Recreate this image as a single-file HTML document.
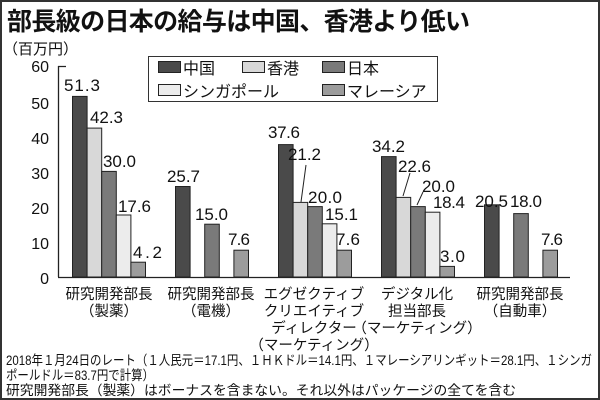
<!DOCTYPE html>
<html><head><meta charset="utf-8"><style>
body{margin:0;background:#fff}
svg{display:block}
text{font-family:"Liberation Sans","Noto Sans CJK JP",sans-serif;fill:#111}
</style></head><body>
<svg width="600" height="400" viewBox="0 0 600 400" xmlns="http://www.w3.org/2000/svg">
<rect x="1" y="1" width="598" height="398" fill="#fff" stroke="#333" stroke-width="2"/>
<text x="7" y="30" font-size="25" font-weight="bold" textLength="463">部長級の日本の給与は中国、香港より低い</text>
<text x="3" y="54" font-size="15">（百万円）</text>
<!-- y axis -->
<g font-size="16" text-anchor="end">
<text x="49" y="72">60</text><text x="49" y="109">50</text><text x="49" y="144">40</text>
<text x="49" y="179">30</text><text x="49" y="214">20</text><text x="49" y="249">10</text><text x="49" y="284">0</text>
</g>
<path d="M58.5 66 V277 M58 66.5 H66 M58 277.5 H570" stroke="#222" stroke-width="1.3" fill="none"/>
<!-- legend -->
<rect x="148.5" y="56.5" width="289" height="45" fill="#fff" stroke="#333"/>
<g stroke="#222" stroke-width="1">
<rect x="158.5" y="61.5" width="22" height="11" fill="#4a4a4a"/>
<rect x="242.5" y="61.5" width="22" height="11" fill="#d8d8d8"/>
<rect x="322.5" y="61.5" width="22" height="11" fill="#7a7a7a"/>
<rect x="158.5" y="84.5" width="22" height="11" fill="#ececec"/>
<rect x="322.5" y="84.5" width="22" height="11" fill="#9c9c9c"/>
</g>
<g font-size="16">
<text x="183" y="74">中国</text><text x="267" y="74">香港</text><text x="347" y="74">日本</text>
<text x="183" y="97">シンガポール</text><text x="347" y="97">マレーシア</text>
</g>
<!-- bars -->
<g stroke="#222" stroke-width="1">
<rect x="72.5" y="96.4" width="14.6" height="180.6" fill="#4a4a4a"/>
<rect x="87.1" y="128.1" width="14.6" height="148.9" fill="#d8d8d8"/>
<rect x="101.7" y="171.4" width="14.6" height="105.6" fill="#7a7a7a"/>
<rect x="116.3" y="215.0" width="14.6" height="62.0" fill="#ececec"/>
<rect x="130.9" y="262.2" width="14.6" height="14.8" fill="#9c9c9c"/>

<rect x="175.5" y="186.5" width="14.6" height="90.5" fill="#4a4a4a"/>
<rect x="204.7" y="224.2" width="14.6" height="52.8" fill="#7a7a7a"/>
<rect x="233.9" y="250.2" width="14.6" height="26.8" fill="#9c9c9c"/>

<rect x="278.5" y="144.6" width="14.6" height="132.4" fill="#4a4a4a"/>
<rect x="293.1" y="202.4" width="14.6" height="74.6" fill="#d8d8d8"/>
<rect x="307.7" y="206.6" width="14.6" height="70.4" fill="#7a7a7a"/>
<rect x="322.3" y="223.8" width="14.6" height="53.2" fill="#ececec"/>
<rect x="336.9" y="250.2" width="14.6" height="26.8" fill="#9c9c9c"/>

<rect x="381.5" y="156.6" width="14.6" height="120.4" fill="#4a4a4a"/>
<rect x="396.1" y="197.4" width="14.6" height="79.6" fill="#d8d8d8"/>
<rect x="410.7" y="206.6" width="14.6" height="70.4" fill="#7a7a7a"/>
<rect x="425.3" y="212.2" width="14.6" height="64.8" fill="#ececec"/>
<rect x="439.9" y="266.4" width="14.6" height="10.6" fill="#9c9c9c"/>

<rect x="484.5" y="204.8" width="14.6" height="72.2" fill="#4a4a4a"/>
<rect x="513.7" y="213.6" width="14.6" height="63.4" fill="#7a7a7a"/>
<rect x="542.9" y="250.2" width="14.6" height="26.8" fill="#9c9c9c"/>
</g>
<!-- leader lines -->
<path d="M306 165 L301 202 M410 173 L403 196 M423 192 L417 205" stroke="#222" stroke-width="1" fill="none"/>
<!-- value labels -->
<g font-size="17">
<text x="64" y="91" textLength="36">51.3</text>
<text x="90" y="123" textLength="33">42.3</text>
<text x="103" y="167" textLength="33">30.0</text>
<text x="118" y="212" textLength="33">17.6</text>
<text x="133" y="258" textLength="29">4.2</text>
<text x="167" y="182" textLength="33">25.7</text>
<text x="195" y="220" textLength="33">15.0</text>
<text x="228" y="245" textLength="22">7.6</text>
<text x="268" y="138" textLength="32">37.6</text>
<text x="288" y="160" textLength="33">21.2</text>
<text x="308" y="203" textLength="34">20.0</text>
<text x="325" y="220" textLength="33">15.1</text>
<text x="336" y="245" textLength="24">7.6</text>
<text x="372" y="152" textLength="33">34.2</text>
<text x="398" y="172" textLength="33">22.6</text>
<text x="422" y="192" textLength="33">20.0</text>
<text x="433" y="208" textLength="32">18.4</text>
<text x="440" y="262" textLength="25">3.0</text>
<text x="475" y="207" textLength="33">20.5</text>
<text x="510" y="207" textLength="32">18.0</text>
<text x="541" y="245" textLength="22">7.6</text>
</g>
<!-- category labels -->
<g font-size="14.5" text-anchor="middle">
<text x="109" y="299">研究開発部長</text><text x="109" y="316">（製薬）</text>
<text x="211" y="299">研究開発部長</text><text x="211" y="316">（電機）</text>
<text x="314" y="299">エグゼクティブ</text><text x="314" y="316">クリエイティブ</text><text x="314" y="333">ディレクター</text><text x="314" y="350">（マーケティング）</text>
<text x="417" y="299">デジタル化</text><text x="417" y="316">担当部長</text><text x="417" y="333">（マーケティング）</text>
<text x="520" y="299">研究開発部長</text><text x="520" y="316">（自動車）</text>
</g>
<g font-size="13.5">
<text x="6" y="365" textLength="586" lengthAdjust="spacingAndGlyphs">2018年１月24日のレート（１人民元＝17.1円、１ＨＫドル＝14.1円、１マレーシアリンギット＝28.1円、１シンガ</text>
<text x="6" y="380" textLength="148" lengthAdjust="spacingAndGlyphs">ポールドル＝83.7円で計算）</text>
<text x="6" y="395" textLength="510" lengthAdjust="spacingAndGlyphs">研究開発部長（製薬）はボーナスを含まない。それ以外はパッケージの全てを含む</text>
</g>
</svg>
</body></html>
